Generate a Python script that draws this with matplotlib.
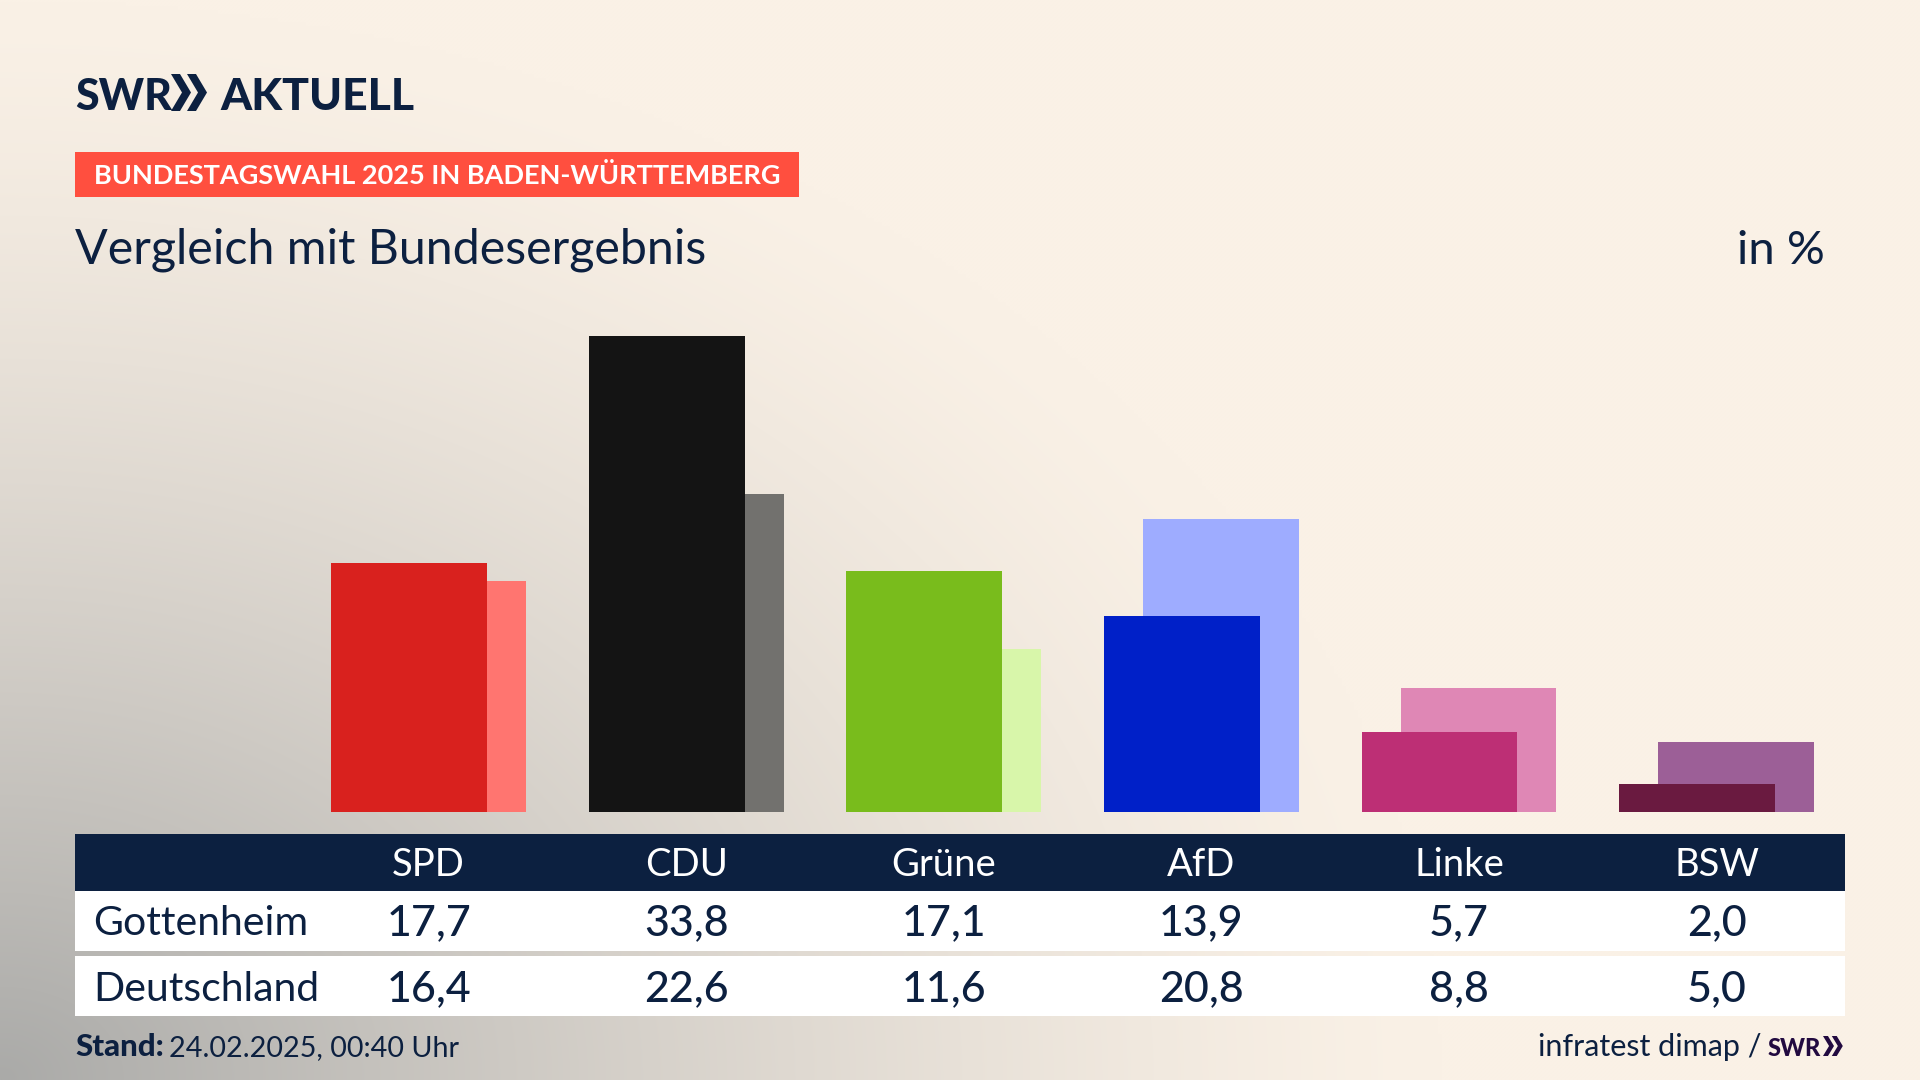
from typing import List, Tuple
import numpy as np
import numpy.typing as npt
import matplotlib.pyplot as plt
from matplotlib.axes import Axes

FIG_WIDTH = 1920
FIG_HEIGHT = 1080
NAVY = "#0C2040"
FONT = "Lato"
STEP = 257.6

PARTIES: List[str] = ["SPD", "CDU", "Grüne", "AfD", "Linke", "BSW"]
GOTTENHEIM: List[float] = [17.7, 33.8, 17.1, 13.9, 5.7, 2.0]
DEUTSCHLAND: List[float] = [16.4, 22.6, 11.6, 20.8, 8.8, 5.0]
FRONT_COLORS: List[str] = ["#D9211E", "#141414", "#79BC1C", "#0020C8", "#BD2F75", "#6A1A40"]
BACK_COLORS: List[str] = ["#FF7570", "#72716E", "#D8F6AA", "#9EACFF", "#DF87B5", "#9C5F97"]


#comma as decimal sign
def format_value(value: float) -> str:
    return f"{value:.1f}".replace(".", ",")

#grey glow out of the lower left corner
def background_matrix() -> npt.NDArray[np.float64]:
    x, y = np.meshgrid(np.linspace(0, 1, 480), np.linspace(0, 1, 270))
    distance = np.sqrt((x / 0.75) ** 2 + ((1 - y) / 1.0) ** 2)
    weight = np.clip(1 - distance, 0, 1) ** 1.35
    cream = np.array([250, 241, 230]) / 255
    grey = np.array([170, 170, 168]) / 255
    return cream + (grey - cream) * weight[..., None]

#the chevrons of the logo
def draw_chevrons(ax: Axes, x: float, top: float, bottom: float, width: float, color: str) -> None:
    mid = (top + bottom) / 2
    thick = width * 0.45
    for offset in (0, width * 0.8):
        ax.fill(
            [x + offset, x + offset + thick, x + offset + width, x + offset + thick, x + offset, x + offset + width - thick],
            [top, top, mid, bottom, bottom, mid],
            color=color,
            linewidth=0
        )

#header, banner and subtitle
def draw_header(ax: Axes) -> None:
    ax.text(75, 110, "SWR", family=FONT, fontsize=31, fontweight="black", color=NAVY, va="baseline")
    draw_chevrons(ax, 171, 74, 111, 20, NAVY)
    ax.text(220, 110, "AKTUELL", family=FONT, fontsize=32, fontweight="black", color=NAVY, va="baseline")

    ax.add_patch(plt.Rectangle((75, 152), 724, 45, facecolor="#FF4F3F", edgecolor="none"))
    ax.text(93.5, 184, "BUNDESTAGSWAHL 2025 IN BADEN-WÜRTTEMBERG", family=FONT, fontsize=19.55, fontweight="bold", color="white", va="baseline")

    ax.text(75, 264, "Vergleich mit Bundesergebnis", family=FONT, fontsize=34.8, color=NAVY, va="baseline")
    ax.text(1825, 264, "in %", family=FONT, fontsize=34, color=NAVY, va="baseline", ha="right")

#table below the bars
def draw_table(ax: Axes, centers: List[float]) -> None:
    ax.add_patch(plt.Rectangle((75, 834), 1770, 57, facecolor=NAVY, edgecolor="none"))
    ax.add_patch(plt.Rectangle((75, 891), 1770, 60, facecolor="white", edgecolor="none"))
    ax.add_patch(plt.Rectangle((75, 956), 1770, 60, facecolor="white", edgecolor="none"))

    rows: List[Tuple[str, List[float], float]] = [
        ("Gottenheim", GOTTENHEIM, 935),
        ("Deutschland", DEUTSCHLAND, 1001),
    ]
    for center, party in zip(centers, PARTIES):
        ax.text(center, 876, party, family=FONT, fontsize=27.5, color="white", ha="center", va="baseline")

    for label, values, baseline in rows:
        ax.text(93.5, baseline, label, family=FONT, fontsize=29.5, color=NAVY, va="baseline")
        for center, value in zip(centers, values):
            ax.text(center, baseline, format_value(value), family=FONT, fontsize=31, fontweight="medium", color=NAVY, ha="center", va="baseline")

#footer line
def draw_footer(ax: Axes) -> None:
    ax.text(75, 1056, "Stand:", family=FONT, fontsize=22.5, fontweight="black", color=NAVY, va="baseline")
    ax.text(169, 1056, "24.02.2025, 00:40 Uhr", family=FONT, fontsize=20.7, color=NAVY, va="baseline")
    ax.text(1762, 1056, "infratest dimap /", family=FONT, fontsize=22, color=NAVY, va="baseline", ha="right")
    ax.text(1768, 1056, "SWR", family=FONT, fontsize=17, fontweight="black", color="#220A40", va="baseline")
    draw_chevrons(ax, 1823, 1036, 1056, 11, "#220A40")

#bars, Deutschland behind Gottenheim
def plot_bars(fig: plt.Figure) -> None:
    left = 428.6 - STEP / 2
    top_value = max(GOTTENHEIM)
    ax = fig.add_axes([left / FIG_WIDTH, 1 - 812 / FIG_HEIGHT, 6 * STEP / FIG_WIDTH, 476 / FIG_HEIGHT])
    ax.patch.set_alpha(0)

    positions = np.arange(len(PARTIES))
    ax.bar(positions + 0.0756, DEUTSCHLAND, width=0.605, color=BACK_COLORS, linewidth=0)
    ax.bar(positions - 0.0756, GOTTENHEIM, width=0.605, color=FRONT_COLORS, linewidth=0)

    ax.set_xlim(-0.5, 5.5)
    ax.set_ylim(0, top_value)
    ax.axis("off")

def plot_chart() -> None:
    fig = plt.figure(figsize=(19.2, 10.8), dpi=100)

    page = fig.add_axes([0, 0, 1, 1])
    page.imshow(background_matrix(), extent=[0, FIG_WIDTH, FIG_HEIGHT, 0], aspect="auto", interpolation="bilinear")
    page.set_xlim(0, FIG_WIDTH)
    page.set_ylim(FIG_HEIGHT, 0)
    page.axis("off")

    centers = [428.6 + i * STEP for i in range(len(PARTIES))]
    draw_header(page)
    draw_table(page, centers)
    draw_footer(page)
    plot_bars(fig)

    fig.savefig("out.png", dpi=100)

plot_chart()
